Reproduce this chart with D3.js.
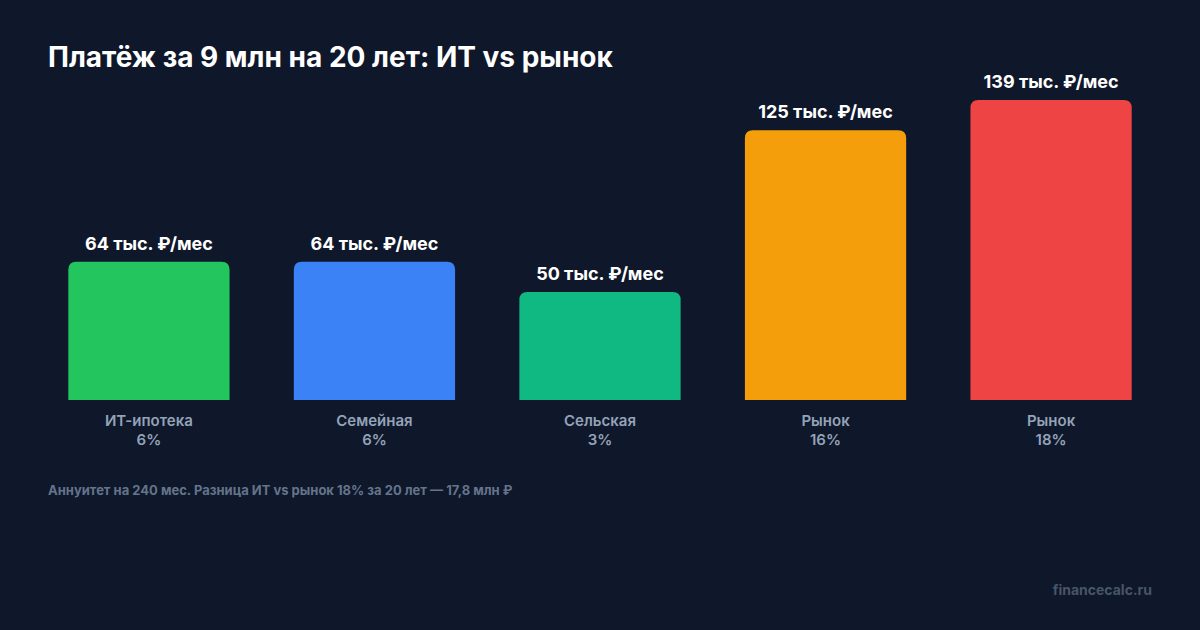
<html>
<head>
<meta charset="utf-8">
<style>
  body { margin: 0; background: #0f172a; }
  svg { display: block; font-family: Inter, "Noto Sans", sans-serif; }
</style>
</head>
<body>
<script src="https://cdn.jsdelivr.net/npm/d3@7"></script>
<script>
// data
var categories = ["ИТ-ипотека", "Семейная", "Сельская", "Рынок", "Рынок"];
var rates = ["6%", "6%", "3%", "16%", "18%"];
var payments = [64, 64, 50, 125, 139];
var colors = ["#22c55e", "#3b82f6", "#10b981", "#f59e0b", "#ef4444"];

var w = 1200, h = 630;
var svg = d3.select("body").append("svg").attr("width", w).attr("height", h);

svg.append("rect").attr("width", w).attr("height", h).attr("fill", "#0f172a");

svg.append("text")
  .attr("x", 48).attr("y", 67)
  .attr("fill", "#ffffff")
  .attr("font-size", 28).attr("font-weight", 700)
  .text("Платёж за 9 млн на 20 лет: ИТ vs рынок");

var baseline = 400;
var x = d3.scaleBand().domain(d3.range(categories.length)).range([48, 1152]).paddingInner(0.285).paddingOuter(0.09);
var y = d3.scaleLinear().domain([0, 139]).range([baseline, 100]);

var r = 8;
function barPath(x0, y0, bw, y1) {
  return "M" + x0 + "," + y1 + " V" + (y0 + r) + " Q" + x0 + "," + y0 + " " + (x0 + r) + "," + y0 +
    " H" + (x0 + bw - r) + " Q" + (x0 + bw) + "," + y0 + " " + (x0 + bw) + "," + (y0 + r) +
    " V" + y1 + " Z";
}

var g = svg.selectAll(".bar").data(payments).enter().append("g").attr("class", "bar");

g.append("path")
  .attr("d", function(d, i){ return barPath(x(i), y(d), x.bandwidth(), baseline); })
  .attr("fill", function(d, i){ return colors[i]; });

g.append("text")
  .attr("x", function(d, i){ return x(i) + x.bandwidth()/2; })
  .attr("y", function(d){ return y(d) - 12; })
  .attr("text-anchor", "middle")
  .attr("fill", "#ffffff")
  .attr("font-size", 18).attr("font-weight", 700)
  .text(function(d){ return d + " тыс. ₽/мес"; });

g.append("text")
  .attr("x", function(d, i){ return x(i) + x.bandwidth()/2; })
  .attr("y", 426)
  .attr("text-anchor", "middle")
  .attr("fill", "#94a3b8")
  .attr("font-size", 15).attr("font-weight", 600)
  .text(function(d, i){ return categories[i]; });

g.append("text")
  .attr("x", function(d, i){ return x(i) + x.bandwidth()/2; })
  .attr("y", 445)
  .attr("text-anchor", "middle")
  .attr("fill", "#94a3b8")
  .attr("font-size", 15).attr("font-weight", 600)
  .text(function(d, i){ return rates[i]; });

svg.append("text")
  .attr("x", 48).attr("y", 495)
  .attr("fill", "#64748b")
  .attr("font-size", 13).attr("font-weight", 700)
  .text("Аннуитет на 240 мес. Разница ИТ vs рынок 18% за 20 лет — 17,8 млн ₽");

svg.append("text")
  .attr("x", 1152).attr("y", 595)
  .attr("text-anchor", "end")
  .attr("fill", "#475569")
  .attr("font-size", 14).attr("font-weight", 700)
  .text("financecalc.ru");
</script>
</body>
</html>
